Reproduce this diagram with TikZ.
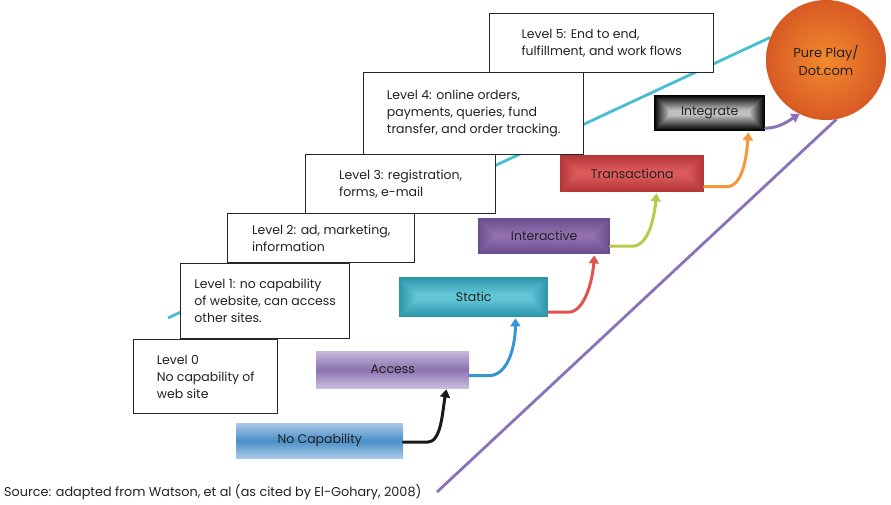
\documentclass[tikz,border=0pt]{standalone}
\usepackage{fontspec}
\setmainfont{Poppins}
\usetikzlibrary{arrows.meta,calc}
\definecolor{cyanline}{HTML}{45BDD2}
\definecolor{purpline}{HTML}{8A72B8}
\definecolor{txt}{HTML}{222222}
\definecolor{ncmid}{RGB}{74,144,200}
\definecolor{ncedge}{RGB}{170,200,230}
\definecolor{acctop}{RGB}{196,184,218}
\definecolor{accbot}{RGB}{200,190,222}
\definecolor{accmid}{RGB}{140,114,178}
\definecolor{stin}{RGB}{98,198,214}
\definecolor{stout}{RGB}{44,150,170}
\definecolor{inin}{RGB}{146,112,176}
\definecolor{inout}{RGB}{106,78,140}
\definecolor{trin}{RGB}{220,90,90}
\definecolor{trout}{RGB}{180,54,56}
\definecolor{igin}{RGB}{190,192,192}
\definecolor{ccin}{RGB}{242,138,46}
\definecolor{ccout}{RGB}{216,90,36}
\definecolor{arblue}{RGB}{52,150,210}
\definecolor{arred}{RGB}{224,84,80}
\definecolor{argreen}{RGB}{184,202,76}
\definecolor{arorange}{RGB}{244,152,60}
\tikzset{
  lvl/.style={draw=black!85, line width=1.4pt, fill=white, align=left, inner sep=0pt,
    anchor=north west, font=\fontsize{12.5}{17}\selectfont, text=txt},
  cbox/.style={inner sep=0pt, anchor=north west, font=\fontsize{12.5}{14}\selectfont, text=txt},
  rgrad/.style n args={3}{path picture={
    \foreach \i in {0,...,#3}{
      \pgfmathsetmacro\p{\i*100/#3}
      \fill[#1!\p!#2] ($(path picture bounding box.south west)+(\i,-\i)$) rectangle ($(path picture bounding box.north east)+(-\i,\i)$);
    }}},
  arr/.style={line width=3pt, -{Triangle[width=10pt,length=8pt]}, line cap=round},
  bigline/.style={line width=2.8pt}
}
\begin{document}
\begin{tikzpicture}[x=1pt,y=-1pt]
\useasboundingbox (0,0) rectangle (891,505);
% background lines
\coordinate (cs) at (168,318);
\coordinate (ps) at (437,492);
\node[circle, minimum size=120pt, inner sep=0pt] (circ0) at (826,60) {};
\draw[bigline, cyanline] (cs) -- (circ0.158.6);
\draw[bigline, purpline] (ps) -- (circ0.-80);
% level boxes
\node[lvl, minimum width=144pt, minimum height=74pt] (l0) at (133,339) {Level 0\\No capability of\\web site};
\node[lvl, minimum width=169pt, minimum height=75pt] (l1) at (180,263) {Level 1: no capability\\of website, can access\\other sites.};
\node[lvl, minimum width=187pt, minimum height=49pt] (l2) at (227,213) {Level 2: ad, marketing,\\information};
\node[lvl, minimum width=190pt, minimum height=59pt] (l3) at (305,154) {Level 3: registration,\\forms, e-mail};
\node[lvl, minimum width=220pt, minimum height=82pt] (l4) at (363,72) {Level 4: online orders,\\payments, queries, fund\\transfer, and order tracking.};
\node[lvl, minimum width=224pt, minimum height=59pt] (l5) at (489,13) {Level 5: End to end,\\fulfillment, and work flows};
% coloured boxes
\node[cbox, minimum width=167pt, minimum height=35pt, top color=ncedge, bottom color=ncedge, middle color=ncmid] (nocap) at (236,423) {No Capability};
\node[cbox, minimum width=153pt, minimum height=37pt, top color=acctop, bottom color=accbot, middle color=accmid] (access) at (316,351) {Access};
\node[cbox, minimum width=149pt, minimum height=40pt, rgrad={stin}{stout}{17}] (static) at (399,277) {Static};
\node[cbox, minimum width=132pt, minimum height=36pt, rgrad={inin}{inout}{16}] (inter) at (478,218) {Interactive};
\node[cbox, minimum width=144pt, minimum height=37pt, rgrad={trin}{trout}{16}] (trans) at (560,155) {Transactiona};
\node[cbox, minimum width=111pt, minimum height=36pt, rgrad={igin}{black}{15}] (integ) at (654,95) {Integrate};
% circle
\node[circle, minimum size=120pt, inner sep=0pt, inner color=ccin, outer color=ccout, align=center, font=\fontsize{13}{18}\selectfont, text=txt] (circ) at (826,60) {Pure Play/\\Dot.com};
% arrows
\draw[arr, black!90] ($(nocap.east)+(0,1.5)$) -- ++(24,0) .. controls +(14,0) and +(-4,22) .. ($(access.south east)+(-23,1)$);
\draw[arr, arblue] ($(access.east)+(0,6)$) -- ++(20,0) .. controls +(20,-1) and +(0,25) .. ($(static.south east)+(-33,1)$);
\draw[arr, arred] ($(static.east)+(0,15)$) -- ++(20,0) .. controls +(16,0) and +(-2,26) .. ($(inter.south east)+(-16,1)$);
\draw[arr, argreen] ($(inter.east)+(0,10)$) -- ++(22,0) .. controls +(16,0) and +(-2,24) .. ($(trans.south east)+(-48,1)$);
\draw[arr, arorange] ($(trans.east)+(0,13)$) -- ++(22,0) .. controls +(16,0) and +(-2,26) .. ($(integ.south east)+(-17,1)$);
\draw[arr, purpline] ($(integ.east)+(0,15)$) .. controls +(14,0) and +(-10,6) .. (circ.-116);
% source
\node[anchor=west, inner sep=0pt, font=\fontsize{12.8}{14}\selectfont, text=txt] (src) at (4,492) {Source: adapted from Watson, et al (as cited by El-Gohary, 2008)};
\end{tikzpicture}
\end{document}
